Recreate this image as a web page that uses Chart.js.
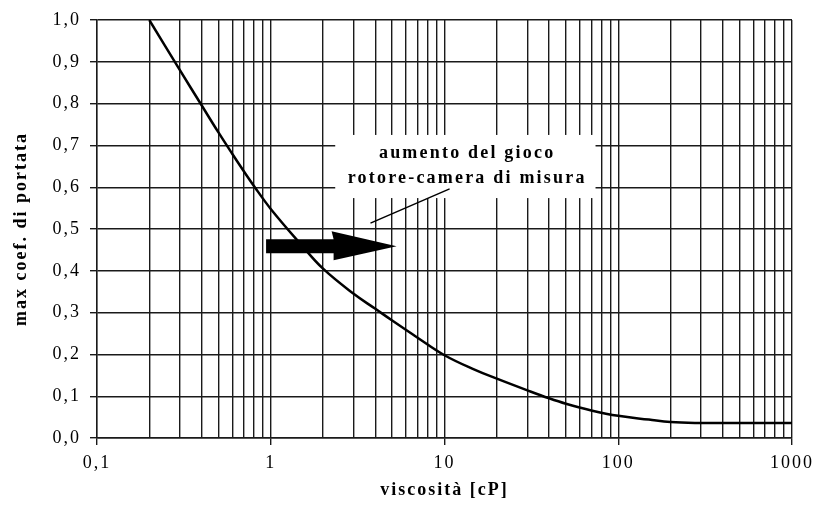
<!DOCTYPE html>
<html lang="it">
<head>
  <meta charset="UTF-8" />
  <title>max coef. di portata - viscosità</title>
  <script src="https://cdn.jsdelivr.net/npm/chart.js"></script>
  <style>
    html, body { margin: 0; padding: 0; background: white; }
    canvas { display: block; }
  </style>
</head>
<body>
  <canvas id="chart" width="821" height="511"></canvas>

  <script>
    // valori
    const viscosity = [0.2, 0.3, 0.4, 0.5, 0.6, 0.7, 0.8, 1, 1.5, 2, 3, 4, 5, 7, 10, 15, 20, 30, 40, 50, 70, 100, 150, 200, 300, 500, 1000];
    const maxCoef   = [1.0, 0.88, 0.796, 0.731, 0.68, 0.638, 0.603, 0.548, 0.462, 0.405, 0.345, 0.309, 0.281, 0.24, 0.198, 0.163, 0.142, 0.114, 0.095, 0.082, 0.066, 0.053, 0.044, 0.038, 0.036, 0.036, 0.036];

    const xDecades = [0.1, 1, 10, 100, 1000];
    const xTickLabels = ['0,1', '1', '10', '100', '1000'];
    const yTicks = [0, 0.1, 0.2, 0.3, 0.4, 0.5, 0.6, 0.7, 0.8, 0.9, 1.0];
    const yTickLabels = ['0,0', '0,1', '0,2', '0,3', '0,4', '0,5', '0,6', '0,7', '0,8', '0,9', '1,0'];

    const noteLines = ['aumento del gioco', 'rotore-camera di misura'];

    // griglia: 1..9 per ogni decade
    const xGrid = [];
    xDecades.forEach(d => {
      if (d === 1000) { xGrid.push(d); return; }
      for (let m = 1; m <= 9; m++) xGrid.push(+(d * m).toPrecision(3));
    });

    const isDecade = v => xDecades.includes(v);
    const ink = '#1a1a1a';
    const serif = 'Liberation Serif';

    const annotations = {
      id: 'annotations',
      beforeUpdate(chart) {
        chart.ctx.letterSpacing = '2px';
      },
      beforeDatasetsDraw(chart) {
        const { ctx, scales: { x, y } } = chart;
        // riquadro bianco sopra la griglia
        const l = x.getPixelForValue(2.35), r = x.getPixelForValue(74);
        const t = y.getPixelForValue(0.725), b = y.getPixelForValue(0.574);
        ctx.save();
        ctx.fillStyle = '#fff';
        ctx.fillRect(l, t, r - l, b - t);
        ctx.restore();
      },
      afterDatasetsDraw(chart) {
        const { ctx, scales: { x, y } } = chart;
        ctx.save();
        ctx.fillStyle = '#000';
        ctx.font = 'bold 18px "' + serif + '"';
        ctx.letterSpacing = '2.2px';
        ctx.textAlign = 'center';
        ctx.textBaseline = 'middle';
        const cx = x.getPixelForValue(13.5);
        ctx.fillText(noteLines[0], cx, y.getPixelForValue(0.682));
        ctx.fillText(noteLines[1], cx, y.getPixelForValue(0.621));

        // linea di richiamo
        ctx.strokeStyle = '#000';
        ctx.lineWidth = 1.5;
        ctx.beginPath();
        ctx.moveTo(x.getPixelForValue(3.75), y.getPixelForValue(0.514));
        ctx.lineTo(x.getPixelForValue(10.7), y.getPixelForValue(0.596));
        ctx.stroke();

        // freccia
        const ay = y.getPixelForValue(0.459);
        const x0 = x.getPixelForValue(0.94), xh = x.getPixelForValue(2.3), x1 = x.getPixelForValue(5.3);
        ctx.beginPath();
        ctx.moveTo(x0, ay - 7);
        ctx.lineTo(xh, ay - 7);
        ctx.lineTo(xh - 2, ay - 15);
        ctx.lineTo(x1, ay);
        ctx.lineTo(xh, ay + 14);
        ctx.lineTo(xh, ay + 7);
        ctx.lineTo(x0, ay + 7);
        ctx.closePath();
        ctx.fill();
        ctx.restore();
      }
    };

    new Chart(document.getElementById('chart'), {
      type: 'line',
      data: {
        datasets: [{
          data: viscosity.map((v, i) => ({ x: v, y: maxCoef[i] })),
          borderColor: '#000',
          borderWidth: 2.5,
          pointRadius: 0,
          tension: 0.4,
          fill: false
        }]
      },
      options: {
        responsive: false,
        animation: false,
        devicePixelRatio: 1,
        layout: { padding: { top: 20, right: 20, bottom: 0, left: 0 } },
        plugins: { legend: { display: false }, tooltip: { enabled: false } },
        scales: {
          x: {
            type: 'logarithmic',
            min: 0.1,
            max: 1000,
            afterBuildTicks: s => { s.ticks = xGrid.map(v => ({ value: v })); },
            afterFit: s => { s.height = 73; },
            grid: {
              color: ink,
              lineWidth: 1.4,
              tickLength: 7,
              tickColor: c => (c.tick && isDecade(c.tick.value)) ? ink : 'rgba(0,0,0,0)'
            },
            border: { color: ink, width: 1.4 },
            ticks: {
              autoSkip: false,
              maxRotation: 0,
              padding: 7,
              color: '#000',
              font: { family: serif, size: 18 },
              callback: v => { const i = xDecades.indexOf(v); return i >= 0 ? xTickLabels[i] : ''; }
            },
            title: {
              display: true,
              text: 'viscosità [cP]',
              color: '#000',
              font: { family: serif, size: 18, weight: 'bold' },
              padding: { top: 0, bottom: 10 }
            }
          },
          y: {
            min: 0,
            max: 1,
            afterBuildTicks: s => { s.ticks = yTicks.map(v => ({ value: v })); },
            afterFit: s => { s.width = 97; },
            grid: { color: ink, lineWidth: 1.4, tickLength: 7 },
            border: { color: ink, width: 1.4 },
            ticks: {
              padding: 9,
              color: '#000',
              font: { family: serif, size: 18 },
              callback: (v, i) => yTickLabels[i]
            },
            title: {
              display: true,
              text: 'max coef. di portata',
              color: '#000',
              font: { family: serif, size: 18, weight: 'bold' },
              padding: { top: 11, bottom: 0 }
            }
          }
        }
      },
      plugins: [annotations]
    });
  </script>
</body>
</html>
